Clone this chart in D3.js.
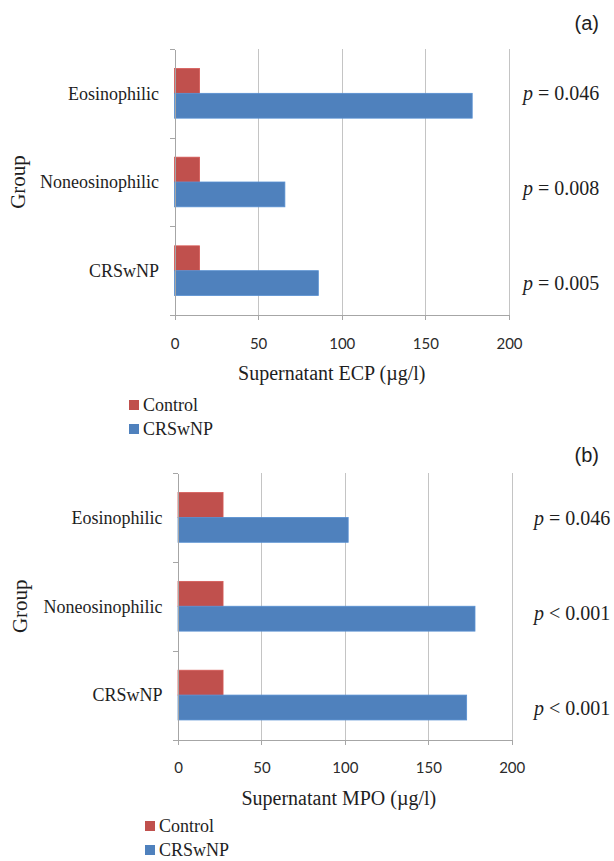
<!DOCTYPE html>
<html>
<head>
<meta charset="utf-8">
<script src="https://cdn.jsdelivr.net/npm/d3@7"></script>
<style>
  body { margin: 0; background: #fff; }
  svg { display: block; }
  .axis path, .axis line { stroke: #a6a6a6; shape-rendering: crispEdges; }
  .grid line { stroke: #c4c4c4; shape-rendering: crispEdges; }
  .grid path { display: none; }
  .axis--x text { font-family: Lato, "Open Sans", sans-serif; font-size: 15px; fill: #2b2b2b; }
  .serif { font-family: "Liberation Serif", "Times New Roman", serif; fill: #1e1e1e; }
</style>
</head>
<body>
<svg width="614" height="861"></svg>
<script>
var groups = ["Eosinophilic", "Noneosinophilic", "CRSwNP"];
var seriesNames = ["Control", "CRSwNP"];
var ecpControl = [15, 15, 15];
var ecpCRSwNP = [178, 66, 86];
var mpoControl = [27, 27, 27];
var mpoCRSwNP = [102, 178, 173];
var ecpPValues = ["= 0.046", "= 0.008", "= 0.005"];
var mpoPValues = ["= 0.046", "< 0.001", "< 0.001"];
var xTicks = [0, 50, 100, 150, 200];

var colours = d3.scaleOrdinal().domain(seriesNames).range(["#c0504d", "#4f81bd"]);

var svg = d3.select("svg");

function drawPanel(p) {
  var width = p.right - p.left,
      height = p.bottom - p.top;

  var g = svg.append("g")
      .attr("transform", "translate(" + p.left + "," + p.top + ")");

  var x = d3.scaleLinear().domain([0, 200]).range([0, width]);
  var y0 = d3.scaleBand().domain(groups).range([0, height])
      .paddingInner(0.44).paddingOuter(0.22);
  var y1 = d3.scaleBand().domain(seriesNames).range([0, y0.bandwidth()]);
  var yEdge = d3.scaleLinear().domain([0, groups.length]).range([0, height]);

  // vertical gridlines
  g.append("g")
      .attr("class", "grid")
      .call(d3.axisBottom(x).tickValues(xTicks.slice(1)).tickSize(height).tickFormat(""));

  var rows = groups.map(function(name, i) {
    return {group: name, values: [
      {key: seriesNames[0], value: p.control[i]},
      {key: seriesNames[1], value: p.crswnp[i]}
    ]};
  });

  g.selectAll(".row")
      .data(rows)
    .enter().append("g")
      .attr("class", "row")
      .attr("transform", function(d) { return "translate(0," + y0(d.group) + ")"; })
    .selectAll("rect")
      .data(function(d) { return d.values; })
    .enter().append("rect")
      .attr("x", x(0))
      .attr("y", function(d) { return y1(d.key); })
      .attr("width", function(d) { return x(d.value) - x(0); })
      .attr("height", y1.bandwidth())
      .attr("fill", function(d) { return colours(d.key); })
      .attr("stroke", function(d) { return d3.color(colours(d.key)).brighter(0.3); })
      .attr("stroke-width", 0.8);

  // x axis
  g.append("g")
      .attr("class", "axis axis--x")
      .attr("transform", "translate(0," + height + ")")
      .call(d3.axisBottom(x).tickValues(xTicks).tickSize(5).tickSizeOuter(0).tickPadding(18));

  // y axis: ticks between categories
  g.append("g")
      .attr("class", "axis axis--y")
      .call(d3.axisLeft(yEdge).ticks(groups.length).tickSize(5).tickSizeOuter(0).tickFormat(""));

  // category labels
  g.selectAll(".cat")
      .data(groups)
    .enter().append("text")
      .attr("class", "cat serif")
      .attr("x", -15.5)
      .attr("y", function(d) { return y0(d) + y0.bandwidth() / 2; })
      .attr("dy", "0.35em")
      .attr("text-anchor", "end")
      .style("font-size", "18px")
      .text(function(d) { return d; });

  // Group label
  g.append("text")
      .attr("class", "serif")
      .attr("transform", "translate(" + (p.groupX - p.left) + "," + (height / 2) + ") rotate(-90)")
      .attr("dy", "0.35em")
      .attr("text-anchor", "middle")
      .style("font-size", "21px")
      .text("Group");

  // axis title
  g.append("text")
      .attr("class", "serif")
      .attr("x", width / 2 + p.titleShift)
      .attr("y", height + 58)
      .attr("dy", "0.35em")
      .attr("text-anchor", "middle")
      .style("font-size", "20px")
      .text(p.title);

  // p values
  var pv = g.selectAll(".pval")
      .data(p.pValues)
    .enter().append("text")
      .attr("class", "pval serif")
      .attr("x", p.pX - p.left)
      .attr("y", function(d, i) { return p.pY[i] - p.top; })
      .attr("dy", "0.35em")
      .style("font-size", "20px");
  pv.append("tspan").style("font-style", "italic").text("p");
  pv.append("tspan").text(function(d) { return " " + d; });

  // legend
  var legend = svg.append("g")
      .attr("transform", "translate(" + p.legendX + "," + p.legendY + ")")
    .selectAll("g")
      .data(seriesNames)
    .enter().append("g")
      .attr("transform", function(d, i) { return "translate(0," + i * 24 + ")"; });
  legend.append("rect")
      .attr("x", 0).attr("y", -5)
      .attr("width", 10).attr("height", 10)
      .attr("fill", function(d) { return colours(d); });
  legend.append("text")
      .attr("class", "serif")
      .attr("x", 14)
      .attr("dy", "0.35em")
      .style("font-size", "18px")
      .text(function(d) { return d; });

  // panel letter
  svg.append("text")
      .attr("x", 599)
      .attr("y", p.letterY)
      .attr("dy", "0.35em")
      .attr("text-anchor", "end")
      .style("font-family", "'Liberation Sans', Arial, sans-serif")
      .style("font-size", "20px")
      .style("fill", "#1e1e1e")
      .text(p.letter);
}

drawPanel({
  left: 174.5, right: 509, top: 49, bottom: 315,
  control: ecpControl, crswnp: ecpCRSwNP, pValues: ecpPValues,
  pX: 523, pY: [93, 188, 283],
  title: "Supernatant ECP (\u00b5g/l)", titleShift: -10,
  groupX: 17.5, legendX: 129, legendY: 405,
  letter: "(a)", letterY: 23
});

drawPanel({
  left: 178, right: 511.7, top: 473, bottom: 739.5,
  control: mpoControl, crswnp: mpoCRSwNP, pValues: mpoPValues,
  pX: 534, pY: [518, 613, 708],
  title: "Supernatant MPO (\u00b5g/l)", titleShift: -6,
  groupX: 19.5, legendX: 145, legendY: 826,
  letter: "(b)", letterY: 455
});
</script>
</body>
</html>
